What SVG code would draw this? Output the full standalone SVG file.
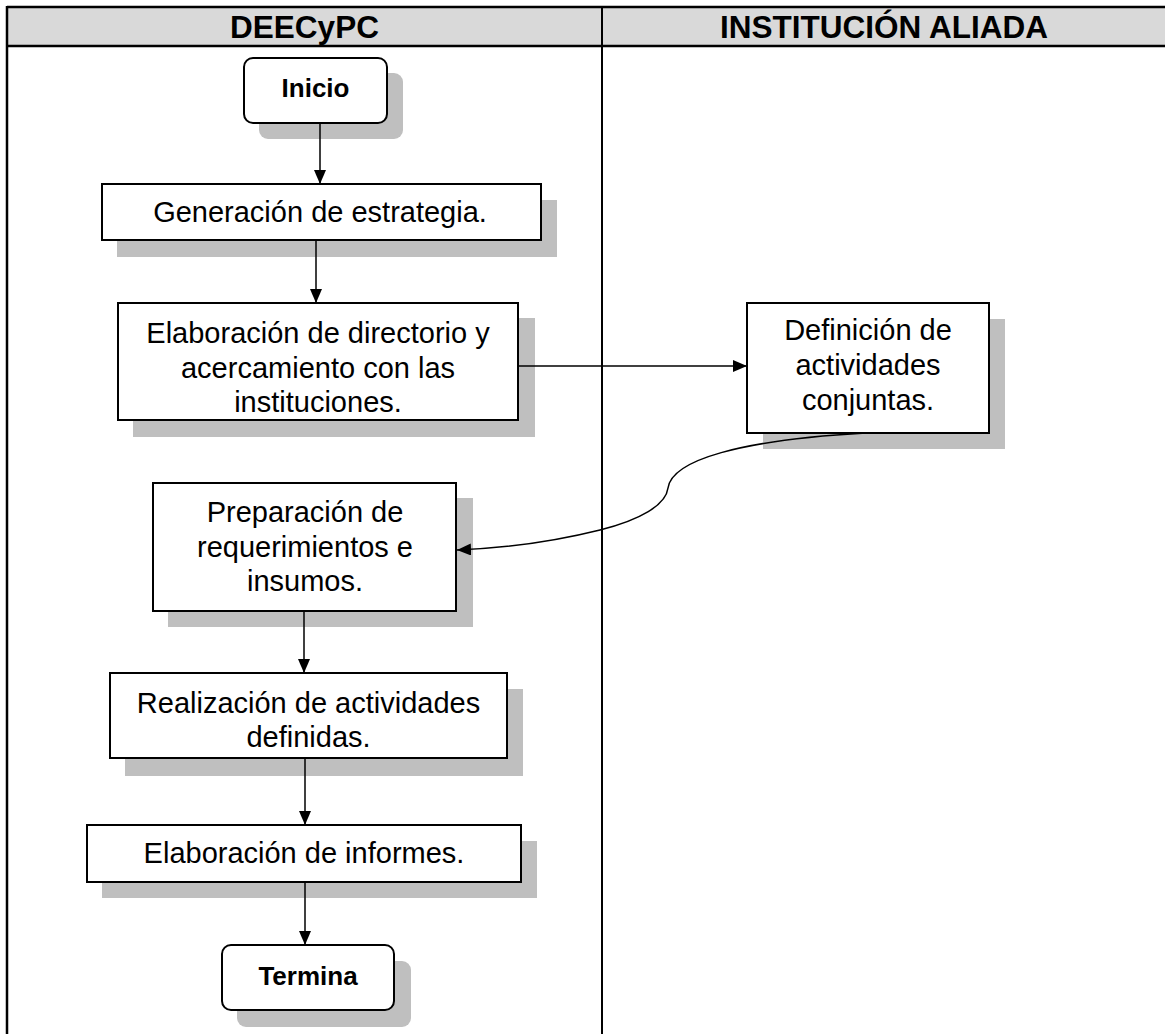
<svg xmlns="http://www.w3.org/2000/svg" width="1165" height="1034" viewBox="0 0 1165 1034">
<style>
.frame{fill:none;stroke:#000;stroke-width:2.5}
.hdr{fill:#d9d9d9}
.ht{font-family:"Liberation Sans",Arial,sans-serif;font-weight:bold;font-size:31.5px;text-anchor:middle;fill:#000}
.sh{fill:#bfbfbf}
.box{fill:#fff;stroke:#000;stroke-width:2}
.t{font-family:"Liberation Sans",Arial,sans-serif;font-size:29px;text-anchor:middle;fill:#000}
.tb{font-family:"Liberation Sans",Arial,sans-serif;font-size:26px;font-weight:bold;text-anchor:middle;fill:#000}
.con{fill:none;stroke:#000;stroke-width:1.5}
</style>
<defs>
<marker id="arr" viewBox="0 0 14 12" refX="14" refY="6" markerWidth="14" markerHeight="12" markerUnits="userSpaceOnUse" orient="auto">
<path d="M0,0 L14,6 L0,12 z" fill="#000"/>
</marker>
</defs>
<rect width="1165" height="1034" fill="#fff"/>
<g id="lanes">
<rect class="hdr" x="7" y="7" width="1160" height="39"/>
<line class="frame" x1="7" y1="7" x2="1166" y2="7"/>
<line class="frame" x1="7" y1="46" x2="1166" y2="46"/>
<line class="frame" x1="7" y1="6" x2="7" y2="1034"/>
<line class="frame" x1="602" y1="7" x2="602" y2="1034" style="stroke-width:2"/>
<text class="ht" x="304.5" y="38">DEECyPC</text>
<text class="ht" x="884" y="38">INSTITUCIÓN ALIADA</text>
</g>
<g id="inicio">
<rect class="sh" x="259" y="73" width="144" height="66" rx="9"/>
<rect class="box" x="244" y="58" width="143" height="65" rx="9"/>
<text class="tb" x="315.5" y="97">Inicio</text>
</g>
<g id="generacion">
<rect class="sh" x="117" y="200" width="440" height="57"/>
<rect class="box" x="102" y="184" width="439" height="56"/>
<text class="t" x="320" y="222">Generación de estrategia.</text>
</g>
<g id="elaboracion-directorio">
<rect class="sh" x="133" y="318" width="402" height="119"/>
<rect class="box" x="118" y="303" width="400" height="117"/>
<text class="t" x="318" y="343">Elaboración de directorio y</text>
<text class="t" x="318" y="378">acercamiento con las</text>
<text class="t" x="318" y="412">instituciones.</text>
</g>
<g id="definicion">
<rect class="sh" x="763" y="319" width="242" height="130"/>
<rect class="box" x="747" y="303" width="242" height="130"/>
<text class="t" x="868" y="340">Definición de</text>
<text class="t" x="868" y="375">actividades</text>
<text class="t" x="868" y="410">conjuntas.</text>
</g>
<g id="preparacion">
<rect class="sh" x="168" y="498" width="305" height="129"/>
<rect class="box" x="153" y="483" width="303" height="128"/>
<text class="t" x="305" y="522">Preparación de</text>
<text class="t" x="305" y="557">requerimientos e</text>
<text class="t" x="305" y="591">insumos.</text>
</g>
<g id="realizacion">
<rect class="sh" x="125" y="689" width="398" height="87"/>
<rect class="box" x="110" y="673" width="397" height="85"/>
<text class="t" x="308.5" y="713">Realización de actividades</text>
<text class="t" x="308.5" y="747">definidas.</text>
</g>
<g id="informes">
<rect class="sh" x="102" y="841" width="435" height="57"/>
<rect class="box" x="87" y="825" width="434" height="57"/>
<text class="t" x="304" y="863">Elaboración de informes.</text>
</g>
<g id="termina">
<rect class="sh" x="237" y="961" width="174" height="66" rx="9"/>
<rect class="box" x="222" y="945" width="172" height="65" rx="9"/>
<text class="tb" x="308" y="985">Termina</text>
</g>
<g id="connectors">
<path class="con" d="M320,123 V184" marker-end="url(#arr)"/>
<path class="con" d="M316,240 V303" marker-end="url(#arr)"/>
<path class="con" d="M518,366 H747" marker-end="url(#arr)"/>
<path class="con" d="M866,433 C740,440 672,460 668,488 C666,505 640,520 600,530 C560,540 510,548 457,550" marker-end="url(#arr)"/>
<path class="con" d="M304,611 V673" marker-end="url(#arr)"/>
<path class="con" d="M305,758 V825" marker-end="url(#arr)"/>
<path class="con" d="M305,882 V945" marker-end="url(#arr)"/>
</g>
</svg>
